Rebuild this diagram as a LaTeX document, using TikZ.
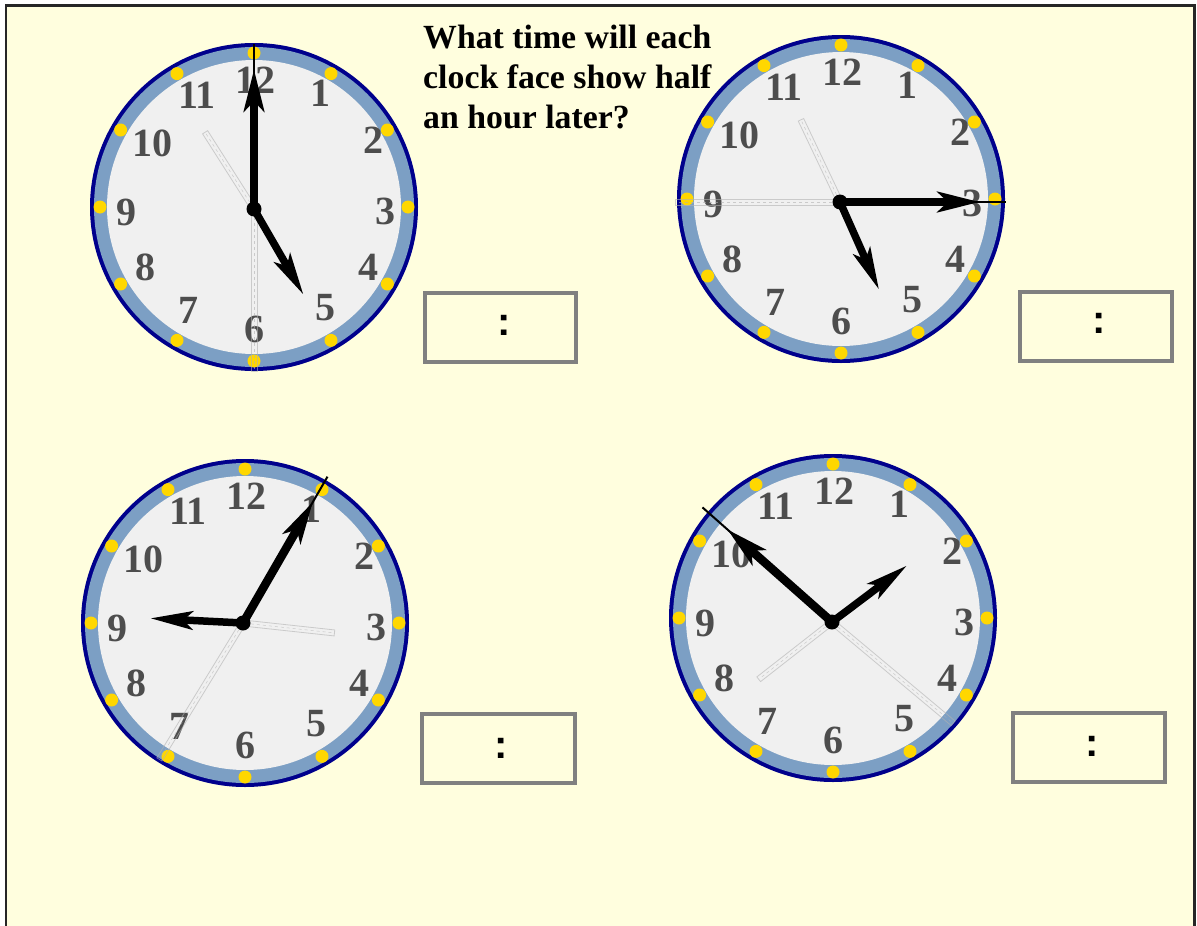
\documentclass[tikz,border=0pt]{standalone}
\usepackage{fontspec}
\setmainfont{Liberation Serif}
\newfontfamily\colonfont{Liberation Sans}
\usetikzlibrary{arrows.meta}
\definecolor{bg}{RGB}{255,254,222}
\definecolor{navyc}{RGB}{0,0,140}
\definecolor{ringc}{RGB}{124,159,196}
\definecolor{facec}{RGB}{240,240,240}
\definecolor{dotc}{RGB}{255,215,0}
\definecolor{numc}{RGB}{77,77,77}
\definecolor{boxc}{RGB}{128,128,128}
\tikzset{
  numlbl/.style={font=\fontsize{40}{40}\selectfont\bfseries, text=numc, inner sep=0pt},
  ghosthand/.style={draw=black!30, line width=0.8pt, opacity=0.6},
  minthin/.style={line width=2pt},
  minhand/.style={line width=8.5pt, -{Stealth[length=42pt,width=20pt,inset=10pt]}},
  hourhand/.style={line width=7.5pt, -{Stealth[length=42pt,width=18pt,inset=9pt]}},
  ansbox/.style={draw=boxc, line width=4pt, fill=bg, minimum width=151pt, minimum height=69pt, inner sep=0pt},
  colonlbl/.style={font=\colonfont\fontsize{40}{40}\selectfont\bfseries, inner sep=0pt},
  titlelbl/.style={font=\fontsize{33.8}{40}\selectfont\bfseries, align=left, inner sep=0pt, anchor=north west}
}
% clock face: name, x, y
\newcommand\drawclock[3]{%
  \coordinate (#1) at (#2,#3);
  \fill[navyc] (#1) circle[radius=164];
  \fill[ringc] (#1) circle[radius=160];
  \fill[facec] (#1) circle[radius=147];
  \foreach \a in {0,30,...,330} \fill[dotc] (#1) ++(\a:154) circle[radius=6.5];
  \foreach \nn/\dx/\dy in {12/1/-127, 1/66/-114, 2/119/-67, 3/131/4, 4/114/60, 5/71/101,
                           6/0/122, 7/-66/103, 8/-109/60, 9/-128/5, 10/-102/-64, 11/-57/-112}
    \node[numlbl] (#1-n\nn) at ([shift={(\dx,\dy)}]#1) {\nn};
}
% ghost hand: pivot, clock angle, length
\newcommand\ghost[3]{%
  \begin{scope}[shift={(#1)}, rotate={90-#2}]
    \draw[ghosthand] (6,-3) rectangle (#3,3);
    \draw[ghosthand, dashed, line width=0.5pt] (8,0) -- (#3-2,0);
  \end{scope}
}
% real hands: pivot, minute angle, minute length, hour angle, hour length
\newcommand\hands[5]{%
  \coordinate (#1-m) at ([shift={({#2-90}:#3)}]#1);
  \coordinate (#1-mh) at ([shift={({#2-90}:140)}]#1);
  \coordinate (#1-h) at ([shift={({#4-90}:#5)}]#1);
  \draw[minthin] (#1) -- (#1-m);
  \draw[minhand] (#1) -- (#1-mh);
  \draw[hourhand] (#1) -- (#1-h);
  \fill (#1) circle[radius=7.5];
}
\begin{document}
\begin{tikzpicture}[x=1pt, y=-1pt]
\useasboundingbox (0,0) rectangle (1197,926);
\fill[white] (0,0) rectangle (1197,926);
\fill[bg] (6,5.5) rectangle (1194.5,930);
\draw[line width=2.5pt, black!85] (6.2,932) -- (6.2,5.5) -- (1194.5,5.5) -- (1194.5,932);

\node[titlelbl] (title) at (423,24.5) {What time will each\\clock face show half\\an hour later?};

% clocks
\drawclock{c1}{254}{207}
\drawclock{c2}{841}{199}
\drawclock{c3}{245}{623}
\drawclock{c4}{833}{618}

\coordinate (p1) at (254,209);
\coordinate (p2) at (840,202);
\coordinate (p3) at (243,623);
\coordinate (p4) at (832,622);

\ghost{p1}{327.5}{91}
\ghost{p1}{180}{162}
\ghost{p2}{334.6}{91}
\ghost{p2}{270}{165}
\ghost{p3}{96.2}{92}
\ghost{p3}{211.5}{160}
\ghost{p4}{232}{93}
\ghost{p4}{129.9}{158}

\hands{p1}{0}{165}{150}{99}
\hands{p2}{90}{166}{156}{96}
\hands{p3}{30}{169}{272.9}{93}
\hands{p4}{311.5}{173}{53}{94}

% answer boxes
\node[ansbox] (b1) at (500.5,327.5) {};
\node[ansbox, minimum width=152pt] (b2) at (1096,326.5) {};
\node[ansbox, minimum width=153pt] (b3) at (498.5,748.5) {};
\node[ansbox, minimum width=152pt] (b4) at (1089,747.5) {};
\node[colonlbl] (k1) at (504,325) {:};
\node[colonlbl] (k2) at (1099,323.5) {:};
\node[colonlbl] (k3) at (501.5,748) {:};
\node[colonlbl] (k4) at (1092.5,746.7) {:};
\end{tikzpicture}
\end{document}
